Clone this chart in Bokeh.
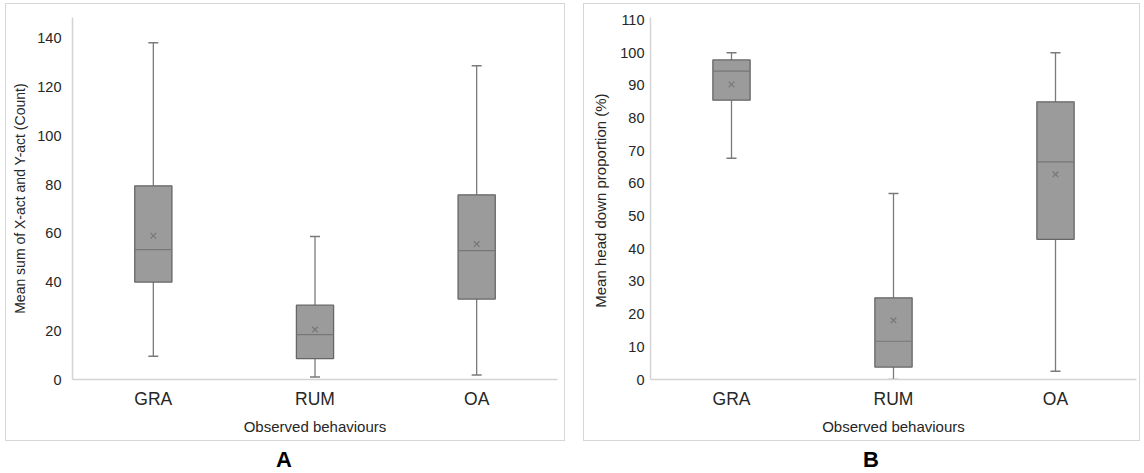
from bokeh.plotting import figure
from bokeh.layouts import row, column, Spacer
from bokeh.models import FactorRange, Range1d, FixedTicker, Div
from bokeh.embed import file_html
from bokeh.resources import INLINE

categories = ["GRA", "RUM", "OA"]

# Panel A: Mean sum of X-act and Y-act (Count)
a_wlow = [9.5, 1.0, 1.8]
a_q1 = [40.0, 8.6, 33.0]
a_median = [53.3, 18.4, 52.9]
a_q3 = [79.5, 30.5, 75.8]
a_whigh = [138.2, 58.7, 128.8]
a_mean = [59.0, 20.5, 55.6]
a_ticks = [0, 20, 40, 60, 80, 100, 120, 140]

# Panel B: Mean head down proportion (%)
b_wlow = [67.7, 0.0, 2.5]
b_q1 = [85.5, 3.8, 42.9]
b_median = [94.4, 11.7, 66.6]
b_q3 = [97.8, 25.0, 85.0]
b_whigh = [100.0, 56.9, 100.0]
b_mean = [90.3, 18.1, 62.8]
b_ticks = [0, 10, 20, 30, 40, 50, 60, 70, 80, 90, 100, 110]

FONT = "Liberation Sans"
BOX_FILL = "#9b9b9b"
BOX_LINE = "#666666"
WHISK = "#7a7a7a"
AXIS = "#d4d4d4"
TXT = "#262626"


def make_panel(width, ymax, wlow, q1, med, q3, whigh, mean, ticks, ylabel,
               ylab_size, border_left, border_top, border_right,
               ylab_standoff, tick_standoff):
    p = figure(width=width, height=438, x_range=FactorRange(*categories),
               y_range=Range1d(0, ymax), output_backend="svg",
               toolbar_location=None, min_border_left=border_left,
               min_border_top=border_top, min_border_bottom=63,
               min_border_right=border_right)
    p.xgrid.visible = False
    p.ygrid.visible = False
    p.outline_line_color = None
    p.styles = {"border": "1px solid #d6d6d6"}
    # whiskers
    p.segment(x0=categories, y0=wlow, x1=categories, y1=q1, line_color=WHISK, line_width=1.3)
    p.segment(x0=categories, y0=q3, x1=categories, y1=whigh, line_color=WHISK, line_width=1.3)
    p.scatter(x=categories, y=wlow, marker="dash", size=10, line_color=WHISK, line_width=1.5)
    p.scatter(x=categories, y=whigh, marker="dash", size=10, line_color=WHISK, line_width=1.5)
    # boxes
    p.vbar(x=categories, bottom=q1, top=q3, width=0.23, fill_color=BOX_FILL,
           line_color=BOX_LINE, line_width=1.3)
    # medians
    p.scatter(x=categories, y=med, marker="dash", size=37, line_color="#777777", line_width=1.2)
    # means
    p.scatter(x=categories, y=mean, marker="x", size=8, line_color="#777777", line_width=1.2)

    p.yaxis.ticker = FixedTicker(ticks=ticks)
    p.yaxis.axis_label = ylabel
    for ax in (p.xaxis[0], p.yaxis[0]):
        ax.axis_line_color = AXIS
        ax.axis_line_width = 1.5
        ax.major_tick_line_color = None
        ax.minor_tick_line_color = None
        ax.major_label_text_font = FONT
        ax.axis_label_text_font = FONT
        ax.major_label_text_color = TXT
        ax.axis_label_text_color = TXT
        ax.axis_label_text_font_style = "normal"
    p.yaxis.axis_label_text_font_size = ylab_size
    p.xaxis.axis_label_text_font_size = "15px"
    p.yaxis.major_label_text_font_size = "14.5px"
    p.yaxis.major_label_standoff = tick_standoff
    p.yaxis.axis_label_standoff = ylab_standoff
    p.xaxis.major_label_text_font_size = "17.5px"
    p.xaxis.major_label_standoff = 3
    p.xaxis.axis_label = "Observed behaviours"
    p.xaxis.axis_label_standoff = 6
    p.x_range.range_padding = 0
    return p


pA = make_panel(560, 148.6, a_wlow, a_q1, a_median, a_q3, a_whigh, a_mean, a_ticks,
                "Mean sum of X-act and Y-act (Count)", "14px", 66, 3, 9, 6, 5)
pB = make_panel(557, 110.8, b_wlow, b_q1, b_median, b_q3, b_whigh, b_mean, b_ticks,
                "Mean head down proportion  (%)", "15px", 66, 13, 5, 8, 0)

labA = Div(text='<span style="position:relative;top:4px;left:-3px">A</span>', width=554, height=19,
           styles={"text-align": "center", "font-weight": "bold", "font-size": "22px",
                   "line-height": "19px", "font-family": FONT, "color": "#000"})
labB = Div(text='<span style="position:relative;top:4px;left:7px">B</span>', width=540, height=19,
           styles={"text-align": "center", "font-weight": "bold", "font-size": "22px",
                   "line-height": "19px", "font-family": FONT, "color": "#000",
                   "padding-left": "40px"})

layout = column(
    Spacer(height=3),
    row(Spacer(width=5), pA, Spacer(width=18), pB, spacing=0),
    row(Spacer(width=5), labA, labB, spacing=0),
    spacing=0,
)

open("out.html", "w").write(file_html(layout, INLINE))
